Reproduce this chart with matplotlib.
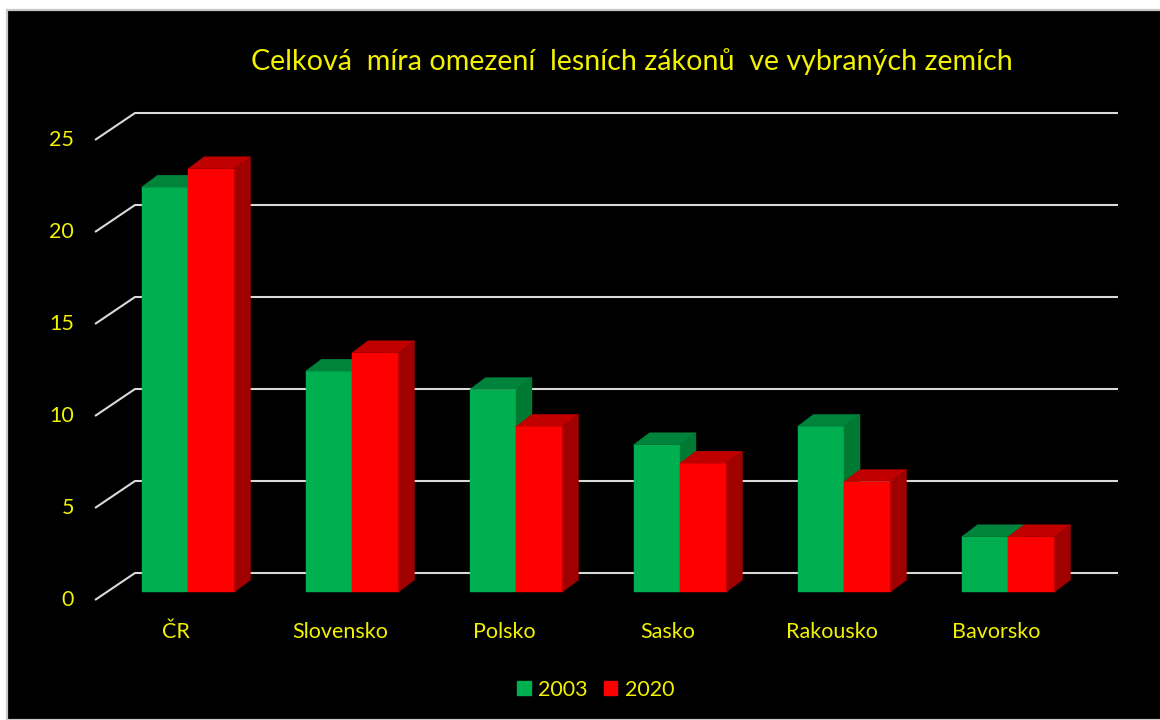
import matplotlib
matplotlib.use("Agg")
import matplotlib.pyplot as plt
from matplotlib.patches import Polygon, Rectangle, Patch

# ---- data ----
categories = ["ČR", "Slovensko", "Polsko", "Sasko", "Rakousko", "Bavorsko"]
series_names = ["2003", "2020"]
values_2003 = [22, 12, 11, 8, 9, 3]
values_2020 = [23, 13, 9, 7, 6, 3]
yticks = [0, 5, 10, 15, 20, 25]
title = "Celková  míra omezení  lesních zákonů  ve vybraných zemích"

# ---- style ----
YELLOW = "#F2F200"
GRID = "#D9D9D9"
colors = {
    "2003": ("#00B050", "#00843C", "#007A33"),   # front, top, side
    "2020": ("#FF0000", "#C00000", "#A00000"),
}
FONT = "Lato"
FS = 15.5

W, H = 1160, 720
fig = plt.figure(figsize=(W / 100, H / 100), dpi=100)
fig.patch.set_facecolor("white")
fig.patches.append(Rectangle((7 / W, 0), 1, 1 - 10 / H, transform=fig.transFigure,
                             facecolor="black", edgecolor="#C8C8C8", linewidth=1.6,
                             zorder=-10))

# scale: category step 164 px, 18.4 px per unit, front-plane origin at (176, 600)
SX, SY = 164.0, 18.4
X0, Y0 = 176.0, 600.0
ax = fig.add_axes([0, 0, 1, 1])
ax.set_xlim(-X0 / SX, (W - X0) / SX)
ax.set_ylim((Y0 - H) / SY, Y0 / SY)
ax.axis("off")
ax.patch.set_visible(False)

def px(dx, dy):
    return dx / SX, dy / SY

# walls
wall_x = (95 - X0) / SX             # left wall front edge
back_dx, back_dy = px(40, 27)        # depth of the chart box
right_end = (1118 - 40 - X0) / SX
for v in yticks:
    ax.plot([wall_x, wall_x + back_dx, right_end + back_dx],
            [v, v + back_dy, v + back_dy], color=GRID, lw=1.5,
            solid_capstyle="butt", zorder=1)
    ax.text(wall_x - 21 / SX, v, str(v), color=YELLOW, fontsize=FS,
            family=FONT, ha="right", va="center")

# bars
bar_dx, bar_dy = px(12, 8)           # bar front offset into depth
dep_dx, dep_dy = px(16, 12)          # bar depth
bw = 46.5 / SX
for k, (name, vals) in enumerate(zip(series_names, [values_2003, values_2020])):
    front, top, side = colors[name]
    for i, v in enumerate(vals):
        x0 = i + bar_dx + (k - 1) * bw
        x1 = x0 + bw
        b = bar_dy
        t = v + bar_dy
        z = 3 + 2 * k + 0.1 * i
        ax.add_patch(Polygon([(x0, b), (x1, b), (x1, t), (x0, t)],
                             closed=True, facecolor=front, edgecolor=front,
                             lw=0.3, zorder=z))
        ax.add_patch(Polygon([(x0, t), (x1, t), (x1 + dep_dx, t + dep_dy),
                              (x0 + dep_dx, t + dep_dy)],
                             closed=True, facecolor=top, edgecolor=top,
                             lw=0.3, zorder=z))
        ax.add_patch(Polygon([(x1, b), (x1 + dep_dx, b + dep_dy),
                              (x1 + dep_dx, t + dep_dy), (x1, t)],
                             closed=True, facecolor=side, edgecolor=side,
                             lw=0.3, zorder=z))

# category labels
for i, c in enumerate(categories):
    ax.text(i, -32 / SY, c, color=YELLOW, fontsize=FS, family=FONT,
            ha="center", va="center")

fig.text(632 / W, 1 - 62 / H, title, color=YELLOW, fontsize=20.6, family=FONT,
         ha="center", va="center")

handles = [Patch(facecolor=colors[n][0], edgecolor=colors[n][0]) for n in series_names]
leg = fig.legend(handles, series_names, loc="center", bbox_to_anchor=(596 / W, 1 - 690 / H),
                 ncol=2, frameon=False, handlelength=0.62, handleheight=0.62,
                 handletextpad=0.35, columnspacing=0.75,
                 prop={"family": FONT, "size": FS})
for t in leg.get_texts():
    t.set_color(YELLOW)

fig.savefig("out.png", dpi=100, facecolor=fig.get_facecolor())
